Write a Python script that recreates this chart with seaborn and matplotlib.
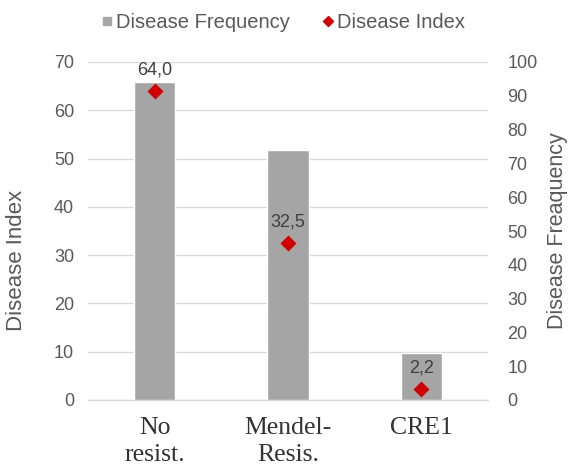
import matplotlib
matplotlib.use("Agg")
import matplotlib.pyplot as plt
from matplotlib.lines import Line2D
import seaborn as sns

# Data
categories = ["No\nresist.", "Mendel-\nResis.", "CRE1"]
disease_frequency = [94.0, 74.0, 14.0]   # right axis, bars
disease_index = [64.0, 32.5, 2.2]        # left axis, diamonds
index_ticks = [0, 10, 20, 30, 40, 50, 60, 70]
freq_ticks = [0, 10, 20, 30, 40, 50, 60, 70, 80, 90, 100]

sns.set_style("white")
plt.rcParams["font.family"] = ["Liberation Sans", "DejaVu Sans"]

BAR_COLOR = "#A5A5A5"
DIAMOND_COLOR = "#D00000"
GRID_COLOR = "#D9D9D9"
TEXT_COLOR = "#595959"

fig = plt.figure(figsize=(5.69, 4.70), dpi=100)
ax = fig.add_axes([88 / 569, 70 / 470, 400 / 569, 338 / 470])
ax_bar = ax.twinx()
ax_idx = ax.twinx()

# Bars: disease frequency on the right-hand scale
sns.barplot(x=categories, y=disease_frequency, ax=ax_bar, color=BAR_COLOR,
            saturation=1, width=0.31, errorbar=None, zorder=2)

# Diamonds: disease index on the left-hand scale
sns.pointplot(x=categories, y=disease_index, ax=ax_idx, color=DIAMOND_COLOR,
              marker="D", markersize=6, linestyle="none", errorbar=None)

for v, i in zip(disease_index, range(len(disease_index))):
    ax_idx.annotate(f"{v:.1f}".replace(".", ","), (i, v), xytext=(0, 12),
                    textcoords="offset points", ha="center", va="baseline",
                    fontsize=13, color="#404040")

# Left axis (grid + ticks)
ax.set_ylim(0, 70)
ax.set_yticks(index_ticks)
ax.yaxis.grid(True, color=GRID_COLOR, linewidth=1)
ax.set_axisbelow(True)
ax.tick_params(axis="y", length=0, pad=10, labelsize=13, labelcolor=TEXT_COLOR)
ax.set_ylabel("Disease Index", fontsize=16, color=TEXT_COLOR)
ax.yaxis.set_label_coords(-0.152, 0.414)

# Right axis
ax_bar.set_ylim(0, 100)
ax_bar.set_yticks(freq_ticks)
ax_bar.tick_params(axis="y", length=0, pad=14, labelsize=13, labelcolor=TEXT_COLOR)
ax_bar.set_ylabel("Disease Freaquency", fontsize=15.5, color=TEXT_COLOR, labelpad=7)

ax_idx.set_ylim(0, 70)
ax_idx.yaxis.set_visible(False)

# Category axis
ax.set_xlim(-0.5, len(categories) - 0.5)
ax.set_xticks(range(len(categories)))
ax.set_xticklabels(categories, fontsize=18.5, color="#333333",
                   family=["Liberation Serif", "DejaVu Serif"], linespacing=1.3)
ax.tick_params(axis="x", length=0, pad=12)
ax.set_xlabel("")
ax_bar.set_xlabel("")
ax_idx.set_xlabel("")

for a in (ax, ax_bar, ax_idx):
    for s in a.spines.values():
        s.set_visible(False)
ax.spines["bottom"].set_visible(True)
ax.spines["bottom"].set_color(GRID_COLOR)
ax.spines["bottom"].set_linewidth(1)

# Legend
handles = [
    Line2D([], [], linestyle="none", marker="s", markersize=6,
           color=BAR_COLOR, label="Disease Frequency"),
    Line2D([], [], linestyle="none", marker="D", markersize=5,
           color=DIAMOND_COLOR, label="Disease Index"),
]
leg = fig.legend(handles=handles, loc="center", bbox_to_anchor=(0.497, 0.953),
                 ncol=2, frameon=False, fontsize=14.5, handlelength=0.6,
                 handletextpad=0.15, columnspacing=1.6)
for t in leg.get_texts():
    t.set_color(TEXT_COLOR)

fig.savefig("out.png", dpi=100)
